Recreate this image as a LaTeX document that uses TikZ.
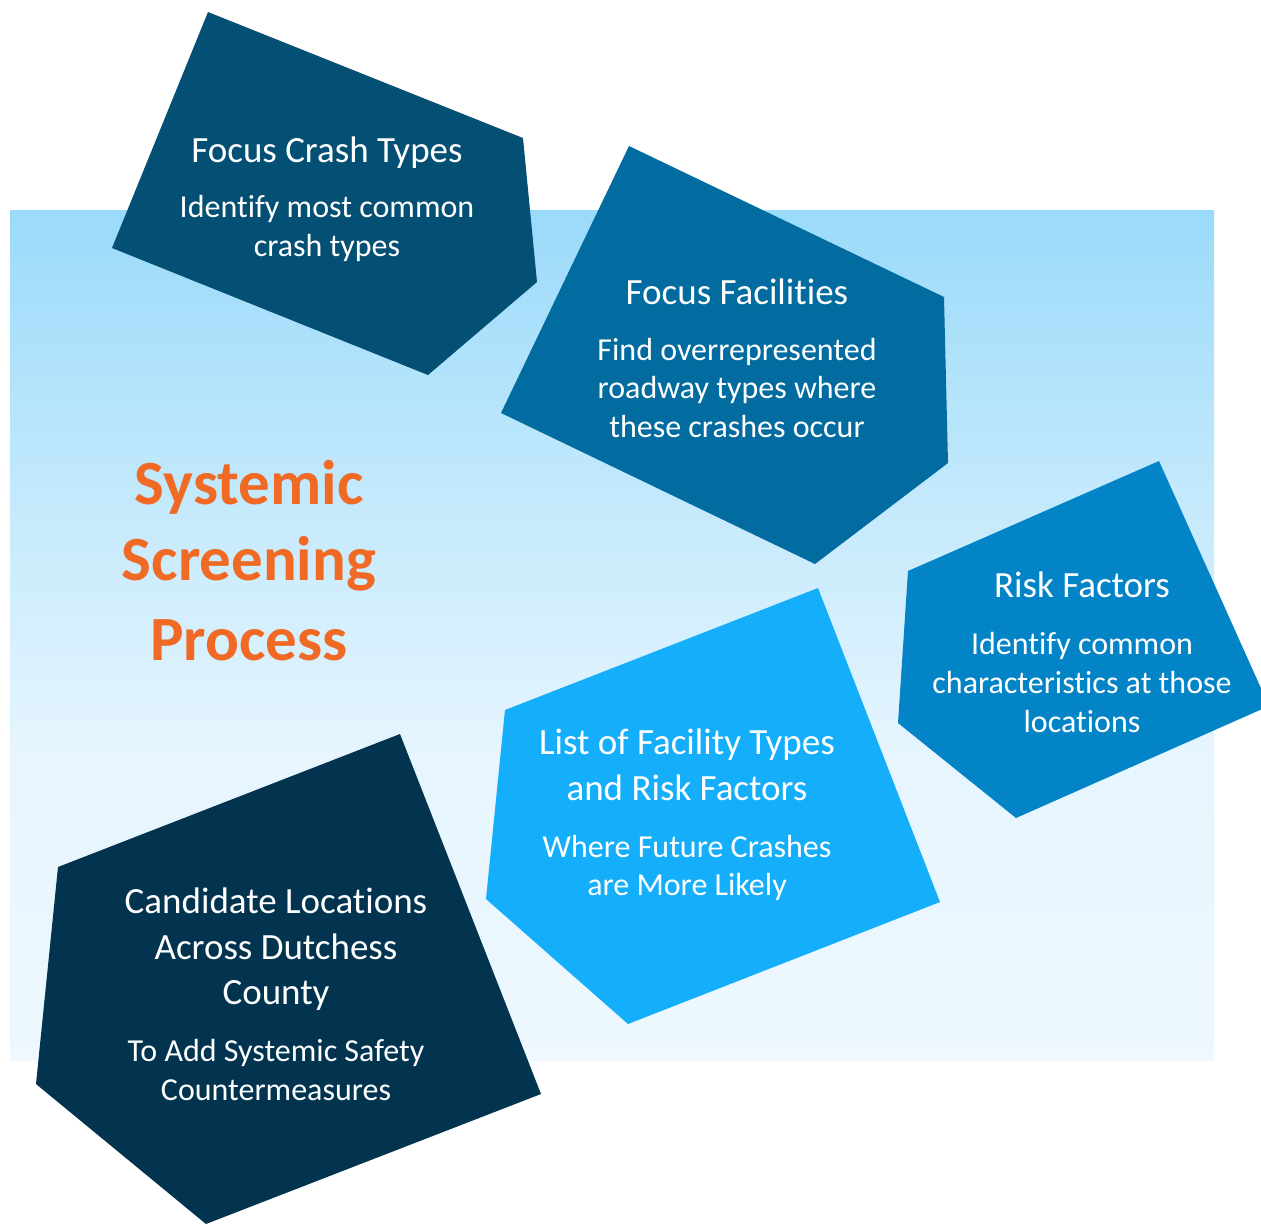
\documentclass[tikz,border=0pt]{standalone}
\usepackage{fontspec}
\setmainfont{Carlito}[Ligatures=NoCommon,Contextuals=NoAlternate,RawFeature={-clig}]
\definecolor{pOne}{RGB}{4,79,116}
\definecolor{pTwo}{RGB}{2,108,160}
\definecolor{pThree}{RGB}{2,132,199}
\definecolor{pFour}{RGB}{20,174,251}
\definecolor{pFive}{RGB}{2,52,80}
\definecolor{orangeT}{RGB}{240,106,37}
\definecolor{bgA}{RGB}{154,218,250}
\definecolor{bgB}{RGB}{198,234,252}
\definecolor{bgC}{RGB}{230,245,254}
\definecolor{bgD}{RGB}{238,248,254}
\pgfdeclareverticalshading{bgshade}{100bp}{color(0bp)=(bgD); color(25bp)=(bgD); color(43bp)=(bgC); color(57bp)=(bgB); color(75bp)=(bgA); color(100bp)=(bgA)}
\begin{document}
\begin{tikzpicture}[x=1pt,y=-1pt,
  ttl/.style={text=white, font=\fontsize{37}{44}\selectfont, anchor=base, inner sep=0pt},
  sub/.style={text=white, font=\fontsize{32}{38}\selectfont, anchor=base, inner sep=0pt},
  big/.style={text=orangeT, font=\bfseries\fontsize{63}{76}\selectfont, anchor=base, inner sep=0pt}]
\useasboundingbox (0,0) rectangle (1261,1224);
\clip (0,0) rectangle (1261,1224);
\shade[shading=bgshade] (10,210) rectangle (1214,1060);
% pentagons
\fill[pOne]   (208,12) -- (523,138) -- (537,282) -- (428,375) -- (112,248) -- cycle;
\fill[pTwo]   (629,146) -- (944,297) -- (948,463) -- (815,564) -- (501,413) -- cycle;
\fill[pThree] (1159,461) -- (1269,706) -- (1016,818) -- (898,723) -- (908,571) -- cycle;
\fill[pFour]  (818,588) -- (940,902) -- (628,1024) -- (486,899) -- (505,710) -- cycle;
\fill[pFive]  (400,734) -- (541,1094) -- (206,1224) -- (36,1084) -- (58,867) -- cycle;
% title
\node[big] (s1) at (249,504) {Systemic};
\node[big] (s2) at (249,580) {Screening};
\node[big] (s3) at (249,660) {Process};
% texts
\node[ttl] (a1) at (327,162) {Focus Crash Types};
\node[sub] (a2) at (327,217) {Identify most common};
\node[sub] (a3) at (327,256) {crash types};
\node[ttl] (b1) at (737,304) {Focus Facilit\-ies};
\node[sub] (b2) at (737,360) {Find overrepresented};
\node[sub] (b3) at (737,398) {roadway types where};
\node[sub] (b4) at (737,437) {these crashes occur};
\node[ttl] (c1) at (1082,597) {Risk Factors};
\node[sub] (c2) at (1082,654) {Identify common};
\node[sub] (c3) at (1082,693) {characterist\-ics at those};
\node[sub] (c4) at (1082,732) {locations};
\node[ttl] (d1) at (687,754) {List of Facility Types};
\node[ttl] (d2) at (687,800) {and Risk Factors};
\node[sub] (d3) at (687,857) {Where Future Crashes};
\node[sub] (d4) at (687,895) {are More Likely};
\node[ttl] (e1) at (276,913) {Candidate Locations};
\node[ttl] (e2) at (276,959) {Across Dutchess};
\node[ttl] (e3) at (276,1004) {County};
\node[sub] (e4) at (276,1061) {To Add Systemic Safety};
\node[sub] (e5) at (276,1100) {Countermeasures};
\end{tikzpicture}
\end{document}
